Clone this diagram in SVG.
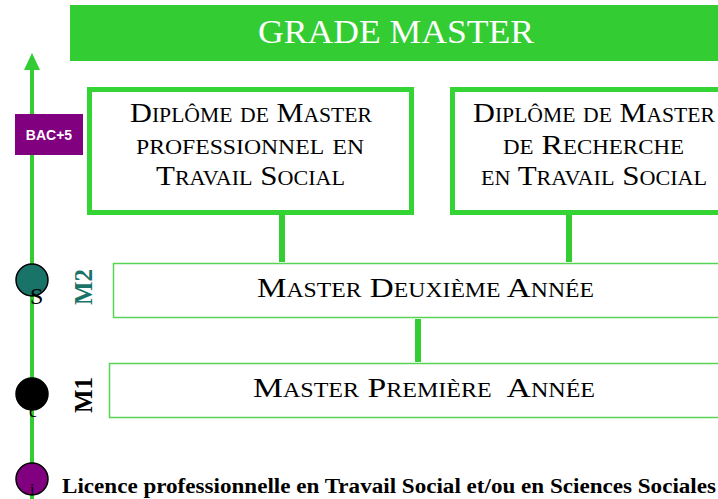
<svg xmlns="http://www.w3.org/2000/svg" width="718" height="499" viewBox="0 0 718 499">
<style>
.sc{font-family:"Liberation Serif","DejaVu Serif",serif;font-variant:small-caps;fill:#000;text-anchor:middle;font-size:28px}
.big{stroke:#33d433;stroke-width:5;fill:#fff}
.thin{stroke:#55d455;stroke-width:1.5;fill:#fff}
.con{stroke:#33cc33;stroke-width:6}
.dot{stroke:#000;stroke-width:1.5}
.frag{font-family:"Liberation Serif",serif;fill:#000}
</style>
<rect width="718" height="499" fill="#fff"/>
<g id="axis">
<line x1="32" y1="68" x2="32" y2="499" stroke="#33cc33" stroke-width="4"/>
<polygon points="32,53 24,70 40,70" fill="#33cc33"/>
</g>
<g id="grade">
<rect x="70" y="5" width="648" height="56" fill="#33cc33"/>
<text x="396" y="43" font-family="Liberation Serif,serif" font-size="33" fill="#fff" text-anchor="middle" textLength="276" lengthAdjust="spacingAndGlyphs">GRADE MASTER</text>
</g>
<g id="bac5">
<rect x="15" y="114" width="68" height="41" fill="#800080"/>
<text x="49" y="140" font-family="Liberation Sans,sans-serif" font-size="14" font-weight="bold" fill="#fff" text-anchor="middle">BAC+5</text>
</g>
<g id="connectors">
<line class="con" x1="282" y1="214" x2="282" y2="262"/>
<line class="con" x1="569" y1="214" x2="569" y2="262"/>
<line class="con" x1="418" y1="319" x2="418" y2="362"/>
</g>
<g id="dipPro">
<rect class="big" x="89.5" y="89.5" width="322" height="123"/>
<text class="sc" x="251" y="122" textLength="242" lengthAdjust="spacingAndGlyphs">Diplôme de Master</text>
<text class="sc" x="250" y="154" textLength="228" lengthAdjust="spacingAndGlyphs">professionnel en</text>
<text class="sc" x="250.5" y="185" textLength="189" lengthAdjust="spacingAndGlyphs">Travail Social</text>
</g>
<g id="dipRech">
<rect class="big" x="452.5" y="89.5" width="280" height="123"/>
<text class="sc" x="594" y="122" textLength="242" lengthAdjust="spacingAndGlyphs">Diplôme de Master</text>
<text class="sc" x="593.5" y="154" textLength="181" lengthAdjust="spacingAndGlyphs">de Recherche</text>
<text class="sc" x="594" y="185" textLength="226" lengthAdjust="spacingAndGlyphs">en Travail Social</text>
</g>
<g id="m2">
<rect class="thin" x="113.5" y="263.5" width="620" height="54"/>
<text class="sc" x="425.5" y="297" textLength="337" lengthAdjust="spacingAndGlyphs">Master Deuxième Année</text>
</g>
<g id="m1">
<rect class="thin" x="109.5" y="363.5" width="620" height="54"/>
<text class="sc" x="424" y="397" textLength="342" lengthAdjust="spacingAndGlyphs" xml:space="preserve">Master Première  Année</text>
</g>
<g id="markers">
<circle class="dot" cx="32" cy="280" r="16" fill="#1a7368"/>
<text class="frag" font-size="24" x="30" y="304">S</text>
<circle class="dot" cx="32" cy="394" r="16" fill="#000"/>
<text class="frag" font-size="18" x="29" y="417">c</text>
<circle class="dot" cx="32" cy="479" r="16" fill="#800080"/>
<text class="frag" font-size="16" x="30" y="495">i</text>
</g>
<g id="labels">
<text transform="translate(92,287) rotate(-90)" font-family="Liberation Serif,serif" font-size="25" font-weight="bold" fill="#1a7368" text-anchor="middle">M2</text>
<text transform="translate(92,395) rotate(-90)" font-family="Liberation Serif,serif" font-size="25" font-weight="bold" fill="#000" text-anchor="middle">M1</text>
</g>
<g id="licence">
<text x="62" y="493" font-family="Liberation Serif,serif" font-size="20" font-weight="bold" fill="#000" textLength="654" lengthAdjust="spacingAndGlyphs">Licence professionnelle en Travail Social et/ou en Sciences Sociales</text>
</g>
</svg>
